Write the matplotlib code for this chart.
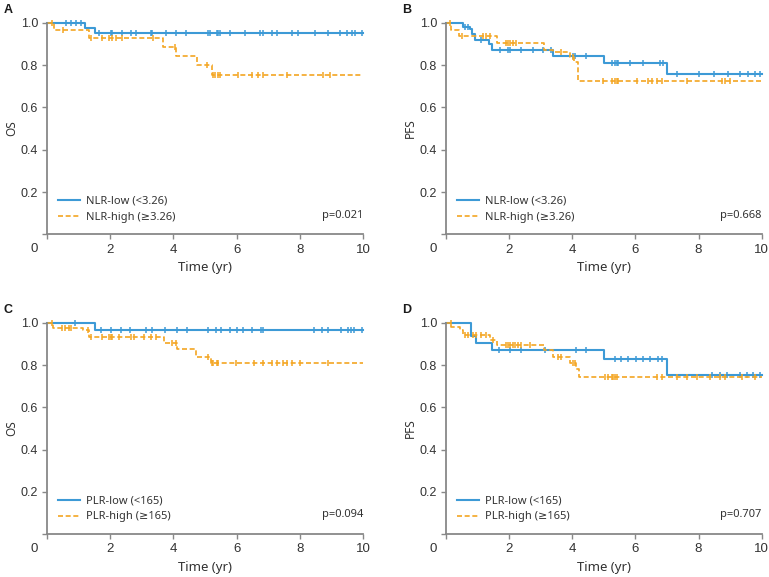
import numpy as np
import matplotlib
matplotlib.use("Agg")
import matplotlib.pyplot as plt

plt.rcParams['font.family'] = ['Noto Sans', 'DejaVu Sans']

BLUE = '#3d9ad6'
ORANGE = '#f4a623'

# ---- panel A: OS by NLR ----
a_low_t = [0, 1.19, 1.51]
a_low_s = [1.0, 0.975, 0.952]
a_low_cens = [0.59, 0.75, 0.91, 1.07, 1.65, 2.02, 2.07, 2.38, 2.65, 2.81, 3.28, 3.33,
              3.76, 4.07, 4.39, 5.1, 5.16, 5.37, 5.42, 5.47, 5.79, 6.27, 6.74, 6.84,
              7.11, 7.27, 7.74, 7.95, 8.48, 8.9, 9.27, 9.48, 9.64, 9.75, 9.96]
a_high_t = [0, 0.22, 1.33, 3.68, 4.07, 4.74, 5.21]
a_high_s = [1.0, 0.964, 0.929, 0.887, 0.844, 0.800, 0.752]
a_high_cens = [0.17, 0.5, 1.38, 1.75, 1.96, 2.07, 2.17, 2.38, 3.37, 4.05, 5.05, 5.26,
               5.32, 5.42, 5.47, 6.05, 6.48, 6.69, 6.85, 7.58, 8.74, 8.96]

# ---- panel B: PFS by NLR ----
b_low_t = [0, 0.53, 0.76, 0.83, 0.93, 1.36, 1.47, 3.39, 5.0, 6.99]
b_low_s = [1.0, 0.981, 0.972, 0.946, 0.918, 0.898, 0.873, 0.845, 0.812, 0.758]
b_low_cens = [0.6, 0.7, 1.12, 1.7, 1.96, 2.02, 2.39, 2.76, 3.07, 3.33, 4.02, 4.08,
              4.44, 5.25, 5.35, 5.41, 5.46, 5.83, 6.25, 6.78, 6.88, 7.33, 8.01,
              8.49, 8.94, 9.31, 9.58, 9.79, 9.95]
b_high_t = [0, 0.15, 0.40, 1.60, 3.10, 3.40, 3.92, 4.07, 4.18]
b_high_s = [1.0, 0.966, 0.935, 0.902, 0.872, 0.860, 0.840, 0.815, 0.726]
b_high_cens = [0.12, 0.5, 1.17, 1.28, 1.38, 1.91, 1.96, 2.02, 2.12, 2.23, 3.65, 4.03,
               4.98, 5.25, 5.35, 5.41, 5.46, 6.04, 6.41, 6.52, 6.67, 6.83, 7.62,
               8.73, 8.83, 8.99]

# ---- panel C: OS by PLR ----
c_low_t = [0, 1.51]
c_low_s = [1.0, 0.964]
c_low_cens = [0.89, 1.7, 2.02, 2.35, 2.63, 3.12, 3.33, 3.72, 4.1, 4.42, 5.1, 5.34,
              5.5, 5.79, 6.0, 6.21, 6.48, 6.76, 6.85, 8.45, 8.69, 8.9, 9.29, 9.53,
              9.61, 9.72, 9.96]
c_high_t = [0, 0.2, 1.15, 1.33, 3.7, 4.12, 4.7, 5.18]
c_high_s = [1.0, 0.976, 0.965, 0.932, 0.906, 0.875, 0.840, 0.811]
c_high_cens = [0.17, 0.48, 0.56, 0.7, 0.75, 1.3, 1.38, 1.75, 1.96, 2.02, 2.07, 2.28,
               2.65, 2.75, 3.07, 3.28, 3.44, 3.97, 4.09, 5.1, 5.21, 5.26, 5.37,
               5.42, 5.98, 6.56, 6.85, 7.11, 7.27, 7.48, 7.58, 7.74, 8.0, 8.9]

# ---- panel D: PFS by PLR ----
d_low_t = [0, 0.80, 0.94, 1.47, 5.0, 6.99]
d_low_s = [1.0, 0.94, 0.904, 0.871, 0.827, 0.752]
d_low_cens = [1.68, 2.02, 2.37, 3.13, 4.11, 4.44, 5.35, 5.53, 5.77, 6.01, 6.25, 6.46,
              6.72, 6.83, 8.42, 8.68, 8.89, 9.31, 9.52, 9.73, 9.95]
d_high_t = [0, 0.17, 0.43, 0.54, 1.38, 1.63, 3.10, 3.38, 3.92, 4.13, 4.20]
d_high_s = [1.0, 0.981, 0.965, 0.942, 0.918, 0.894, 0.869, 0.837, 0.812, 0.78, 0.744]
d_high_cens = [0.15, 0.59, 0.7, 0.86, 0.96, 1.12, 1.28, 1.5, 1.91, 1.96, 2.02, 2.12,
               2.17, 2.28, 2.39, 2.65, 3.55, 3.65, 4.03, 4.08, 5.04, 5.14, 5.25,
               5.3, 5.35, 5.41, 6.67, 6.83, 7.31, 7.62, 7.94, 8.36, 8.68, 8.84,
               9.37, 9.79]

nlr_labels = ['NLR-low (<3.26)', 'NLR-high (\u22653.26)']
plr_labels = ['PLR-low (<165)', 'PLR-high (\u2265165)']


def km_curve(ax, t, s, cens, color, ls, lw, label):
    t = list(t) + [10]
    s = list(s) + [s[-1]]
    ax.step(t, s, where='post', color=color, ls=ls, lw=lw, label=label,
            clip_on=False, dashes=(3, 1.6) if ls == '--' else (None, None))
    # censor marks sit on the step function
    idx = np.searchsorted(t, cens, side='right') - 1
    ys = np.array(s)[idx]
    ax.plot(cens, ys, ls='none', marker='|', color=color, ms=4.5, mew=1.1,
            clip_on=False)


def panel(ax, letter, ylab, low, high, labels, pval):
    km_curve(ax, *low, BLUE, '-', 1.5, labels[0])
    km_curve(ax, *high, ORANGE, '--', 1.2, labels[1])
    ax.set_xlim(0, 10)
    ax.set_ylim(0, 1.0)
    ax.set_xticks([0, 2, 4, 6, 8, 10])
    ax.set_xticklabels(['', '2', '4', '6', '8', '10'], fontsize=9.5,
                       family='Liberation Sans')
    ax.set_yticks([0, 0.2, 0.4, 0.6, 0.8, 1.0])
    ax.set_yticklabels(['', '0.2', '0.4', '0.6', '0.8', '1.0'], fontsize=9,
                       family='Liberation Sans')
    ax.annotate('0', xy=(0, 0), xycoords='axes fraction', xytext=(-9, -6.2),
                textcoords='offset points', ha='center', va='top',
                fontsize=9.5, family='Liberation Sans', color='#333333')
    ax.tick_params(direction='out', length=3.5, width=1, color='#888888',
                   labelcolor='#333333', pad=3)
    for side in ['top', 'right']:
        ax.spines[side].set_visible(False)
    for side in ['left', 'bottom']:
        ax.spines[side].set_color('#888888')
        ax.spines[side].set_linewidth(1.3)
    ax.set_xlabel('Time (yr)', fontsize=9.5, color='#333333', labelpad=4)
    ax.set_ylabel(ylab, fontsize=8.5, color='#333333', labelpad=2)
    ax.legend(loc='lower left', bbox_to_anchor=(0.035, 0.055), frameon=False,
              fontsize=8, handlelength=2.0, handletextpad=0.5, labelspacing=0.45,
              borderpad=0, borderaxespad=0, labelcolor='#333333')
    ax.text(1.0, 0.092, pval, transform=ax.transAxes, ha='right', va='center',
            fontsize=8, color='#333333')
    ax.text(-0.138, 1.09, letter, transform=ax.transAxes, ha='left', va='top',
            fontsize=9, fontweight='bold', family='Liberation Sans',
            color='#1a1a1a')


fig = plt.figure(figsize=(7.69, 5.77), dpi=100)
axA = fig.add_axes([0.0611, 0.5936, 0.411, 0.367])
axB = fig.add_axes([0.580, 0.5936, 0.4105, 0.367])
axC = fig.add_axes([0.0611, 0.0745, 0.411, 0.366])
axD = fig.add_axes([0.580, 0.0745, 0.4105, 0.366])

panel(axA, 'A', 'OS', (a_low_t, a_low_s, a_low_cens), (a_high_t, a_high_s, a_high_cens),
      nlr_labels, 'p=0.021')
panel(axB, 'B', 'PFS', (b_low_t, b_low_s, b_low_cens), (b_high_t, b_high_s, b_high_cens),
      nlr_labels, 'p=0.668')
panel(axC, 'C', 'OS', (c_low_t, c_low_s, c_low_cens), (c_high_t, c_high_s, c_high_cens),
      plr_labels, 'p=0.094')
panel(axD, 'D', 'PFS', (d_low_t, d_low_s, d_low_cens), (d_high_t, d_high_s, d_high_cens),
      plr_labels, 'p=0.707')

fig.savefig('out.png', dpi=100)
